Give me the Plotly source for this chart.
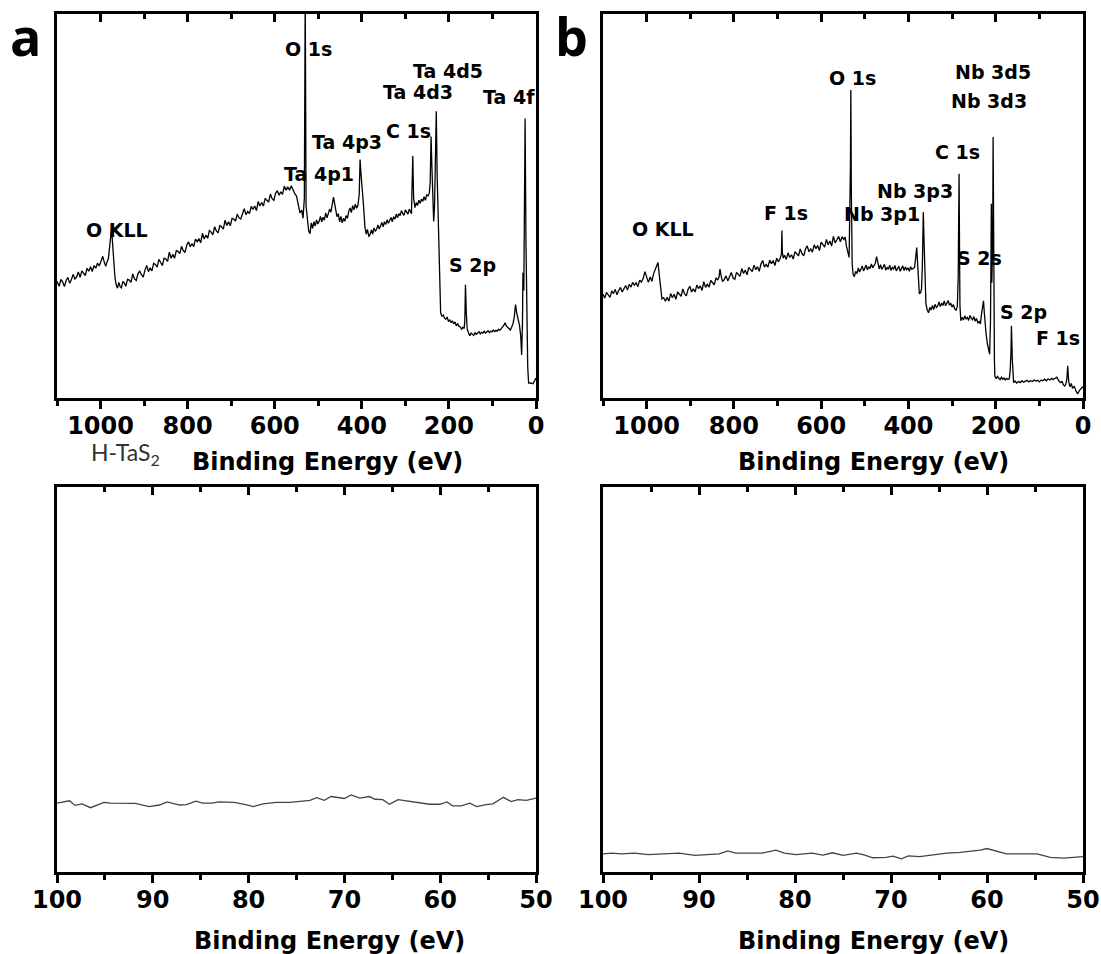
import plotly.graph_objects as go

# ---------------- data ----------------
# (a) H-TaS2 survey spectrum: (binding energy eV, intensity a.u.)
survey_a = [
    (1100, 30.4), (1095, 29.1), (1091, 30.9), (1087, 30.2), (1083, 29.0), (1079, 30.6), (1075, 31.4),
    (1071, 29.9), (1067, 30.8), (1063, 32.2), (1059, 31.0), (1055, 31.5), (1051, 32.8), (1047, 31.4),
    (1043, 33.1), (1039, 32.5), (1035, 31.9), (1031, 33.8), (1027, 33.0), (1023, 34.2), (1019, 32.9),
    (1015, 34.5), (1011, 33.8), (1007, 35.1), (1003, 34.4), (999, 35.6), (995, 36.9), (991, 35.2),
    (988, 34.3), (985, 35.5), (982, 36.3), (979, 39.5), (977, 42.5), (975, 43.9), (973, 41.3),
    (970, 36.0), (967, 31.5), (964, 29.4), (961, 28.6), (958, 30.1), (955, 29.0), (952, 28.7),
    (949, 30.3), (946, 30.1), (942, 29.1), (938, 30.9), (934, 30.7), (930, 30.1), (926, 32.3),
    (922, 31.0), (918, 30.6), (914, 32.4), (910, 33.0), (906, 32.1), (902, 31.5), (898, 33.3),
    (894, 34.5), (890, 32.9), (886, 33.9), (882, 33.1), (878, 35.1), (874, 34.8), (870, 34.1),
    (866, 36.1), (862, 35.1), (858, 34.5), (854, 36.4), (850, 36.2), (846, 35.6), (842, 38.0),
    (838, 36.4), (834, 37.4), (830, 36.4), (826, 38.4), (822, 38.2), (818, 37.6), (814, 39.5),
    (810, 38.4), (806, 37.9), (802, 39.8), (798, 40.7), (794, 39.4), (790, 40.2), (786, 39.4),
    (782, 41.4), (778, 40.7), (774, 41.5), (770, 40.4), (766, 42.9), (762, 41.4), (758, 42.4),
    (754, 41.6), (750, 43.6), (746, 43.2), (742, 42.5), (738, 44.6), (734, 43.5), (730, 43.0),
    (726, 44.9), (722, 44.6), (718, 44.0), (714, 46.3), (710, 44.9), (706, 45.9), (702, 44.8),
    (698, 46.8), (694, 46.6), (690, 46.1), (686, 47.9), (682, 46.9), (678, 46.6), (674, 48.2),
    (670, 49.3), (666, 47.7), (662, 48.6), (658, 48.0), (654, 49.9), (650, 49.1), (646, 50.0),
    (642, 48.8), (638, 51.2), (634, 50.0), (630, 50.9), (626, 50.0), (622, 52.0), (618, 51.5),
    (614, 51.0), (610, 53.1), (606, 51.9), (602, 51.5), (598, 53.3), (594, 54.0), (590, 52.8),
    (586, 53.7), (582, 53.0), (578, 55.2), (574, 54.1), (570, 55.0), (566, 54.1), (562, 55.3),
    (558, 54.0), (554, 53.2), (550, 52.6), (546, 50.4), (542, 48.2), (538, 48.9), (535, 46.8),
    (532, 52.0), (530, 105.0), (528, 50.0), (525, 45.5), (522, 43.5), (519, 42.8), (516, 45.6),
    (513, 44.2), (510, 45.9), (507, 44.8), (504, 46.4), (501, 45.3), (498, 46.0), (495, 47.3),
    (492, 45.9), (489, 47.1), (486, 46.3), (483, 48.2), (480, 46.9), (477, 48.0), (474, 49.2),
    (471, 48.4), (468, 50.6), (465, 52.3), (463, 51.0), (460, 48.8), (457, 47.2), (454, 48.0),
    (451, 45.9), (448, 47.3), (445, 45.6), (442, 46.8), (439, 46.0), (436, 47.5), (433, 46.8),
    (430, 48.6), (427, 49.5), (424, 48.3), (421, 50.1), (418, 49.0), (415, 50.5), (412, 49.4),
    (409, 50.2), (406, 53.0), (404, 62.1), (402, 58.5), (399, 55.2), (396, 50.0), (393, 44.7),
    (390, 42.7), (387, 43.9), (384, 42.0), (381, 42.6), (378, 43.8), (375, 42.7), (372, 44.3),
    (369, 43.4), (366, 44.0), (363, 45.1), (360, 44.0), (357, 44.8), (354, 45.7), (351, 44.6),
    (348, 45.9), (345, 45.2), (342, 46.4), (339, 45.5), (336, 46.1), (333, 47.0), (330, 45.9),
    (327, 47.2), (324, 46.6), (321, 47.9), (318, 46.9), (315, 48.0), (312, 47.5), (309, 48.8),
    (306, 48.0), (303, 47.6), (300, 49.0), (297, 48.3), (294, 47.9), (291, 49.2), (288, 48.6),
    (286, 48.0), (283, 63.0), (281, 52.0), (278, 49.6), (275, 50.9), (272, 50.1), (269, 51.5),
    (266, 50.7), (263, 51.8), (260, 51.2), (257, 52.4), (254, 51.5), (251, 52.9), (248, 52.6),
    (245, 53.4), (243, 56.0), (242, 62.0), (241, 68.1), (239, 60.0), (237, 55.0), (235, 46.0),
    (233, 50.0), (231, 60.0), (229, 74.7), (227, 58.0), (225, 50.0), (223, 38.0), (221, 28.0),
    (219, 22.2), (216, 21.3), (213, 21.6), (210, 20.8), (207, 20.5), (204, 21.1), (201, 19.9),
    (198, 20.4), (195, 19.6), (192, 20.1), (189, 19.3), (186, 19.8), (183, 18.8), (180, 19.4),
    (177, 18.7), (174, 18.5), (171, 17.9), (168, 18.4), (165, 18.1), (163.5, 20.0), (162, 29.5),
    (160, 22.0), (158, 18.0), (155, 17.0), (152, 16.2), (149, 16.9), (146, 16.6), (143, 16.3),
    (140, 17.0), (137, 16.6), (134, 16.9), (131, 17.3), (128, 16.7), (125, 17.1), (122, 16.9),
    (119, 17.4), (116, 16.9), (113, 17.2), (110, 17.5), (107, 17.0), (104, 17.4), (101, 17.2),
    (98, 17.7), (95, 17.3), (92, 17.6), (89, 17.4), (86, 17.9), (83, 17.6), (80, 18.0), (77, 18.4),
    (74, 18.9), (71, 19.6), (68, 18.7), (65, 18.4), (62, 18.0), (59, 17.7), (56, 18.4), (53, 19.3),
    (50, 21.0), (47, 24.3), (44, 22.0), (41, 20.4), (38, 19.0), (35, 16.0), (33, 11.2), (31, 20.0),
    (30, 32.6), (28, 28.0), (27, 50.0), (25, 72.8), (23, 40.0), (21, 17.0), (19, 8.0), (17, 3.9),
    (12, 3.9), (7, 3.7), (3, 4.5), (0, 5.2),
]

# (b) survey spectrum of the Nb sample
survey_b = [
    (1100, 27.1), (1096, 26.0), (1092, 27.5), (1088, 26.8), (1084, 26.2), (1080, 27.9), (1076, 27.2),
    (1072, 28.3), (1068, 26.9), (1064, 28.0), (1060, 28.8), (1056, 27.6), (1052, 28.5), (1048, 29.3),
    (1044, 28.1), (1040, 29.6), (1036, 28.9), (1032, 30.1), (1028, 29.4), (1024, 30.0), (1020, 29.0),
    (1016, 30.7), (1012, 30.2), (1008, 31.1), (1004, 32.9), (1000, 31.3), (996, 30.1), (992, 31.5),
    (988, 30.4), (984, 32.4), (980, 33.6), (977, 34.6), (974, 35.3), (971, 32.0), (968, 28.5),
    (965, 25.8), (961, 26.1), (957, 25.2), (953, 26.2), (949, 25.2), (945, 27.2), (941, 26.1),
    (937, 27.0), (933, 25.7), (929, 27.6), (925, 27.0), (921, 26.5), (917, 28.4), (913, 27.1),
    (909, 26.6), (905, 28.3), (901, 29.1), (897, 27.6), (893, 28.4), (889, 27.6), (885, 29.4),
    (881, 28.5), (877, 29.2), (873, 28.0), (869, 30.3), (865, 28.8), (861, 29.6), (857, 28.9),
    (853, 30.6), (849, 30.1), (845, 29.5), (841, 31.2), (837, 30.8), (834, 31.5), (832, 33.6),
    (829, 31.6), (826, 30.3), (822, 30.9), (818, 31.8), (814, 30.5), (810, 31.7), (806, 32.7),
    (802, 31.3), (798, 30.9), (794, 32.7), (790, 32.3), (786, 31.7), (782, 33.7), (778, 32.4),
    (774, 33.3), (770, 32.1), (766, 34.0), (762, 33.5), (758, 32.9), (754, 34.6), (750, 33.4),
    (746, 34.2), (742, 33.0), (738, 34.9), (734, 35.8), (730, 34.1), (726, 34.8), (722, 34.1),
    (718, 35.9), (714, 35.0), (710, 35.8), (706, 34.5), (702, 36.4), (698, 35.5), (694, 36.3),
    (691, 37.5), (690, 43.6), (689, 38.0), (687, 36.4), (684, 37.2), (680, 36.1), (676, 37.8),
    (672, 36.6), (668, 37.3), (664, 36.2), (660, 38.1), (656, 37.6), (652, 37.0), (648, 38.8),
    (644, 37.6), (640, 37.0), (636, 38.8), (632, 39.6), (628, 38.1), (624, 38.8), (620, 38.0),
    (616, 39.9), (612, 38.9), (608, 39.7), (604, 38.4), (600, 40.6), (596, 40.0), (592, 39.3),
    (588, 41.3), (584, 39.9), (580, 40.9), (576, 39.6), (572, 42.1), (568, 40.4), (564, 41.2),
    (560, 42.1), (556, 40.7), (552, 42.0), (548, 41.3), (545, 41.9), (542, 39.5), (539, 37.5),
    (536, 36.6), (533, 60.0), (532, 80.2), (531, 55.0), (529, 35.0), (527, 32.3), (524, 31.6),
    (521, 33.0), (518, 32.4), (515, 33.9), (512, 32.8), (509, 33.5), (506, 34.4), (503, 33.1),
    (500, 33.8), (497, 34.6), (494, 33.4), (491, 34.2), (488, 33.7), (485, 34.9), (482, 33.9),
    (479, 34.5), (476, 35.1), (473, 36.8), (470, 34.9), (467, 33.6), (464, 34.7), (461, 33.5),
    (458, 34.1), (455, 34.8), (452, 33.3), (449, 34.0), (446, 33.5), (443, 34.6), (440, 33.2),
    (437, 34.0), (434, 33.6), (431, 34.5), (428, 33.1), (425, 33.9), (422, 34.3), (419, 33.0),
    (416, 33.8), (413, 34.4), (410, 33.2), (407, 34.1), (404, 33.4), (401, 33.9), (398, 33.0),
    (395, 34.2), (392, 33.5), (389, 33.8), (386, 34.0), (384, 36.0), (381, 39.2), (379, 35.0),
    (377, 29.0), (375, 27.1), (372, 27.5), (370, 28.5), (368, 35.0), (366, 48.4), (364, 40.0),
    (362, 28.0), (360, 24.5), (357, 23.0), (354, 22.2), (351, 23.6), (348, 22.9), (345, 24.1),
    (342, 23.0), (339, 24.4), (336, 23.6), (333, 24.0), (330, 25.0), (327, 23.8), (324, 24.7),
    (321, 24.1), (318, 25.3), (315, 24.0), (312, 24.8), (309, 25.4), (306, 24.2), (303, 24.6),
    (300, 23.7), (297, 24.3), (294, 23.2), (291, 22.8), (288, 23.9), (286, 31.4), (285, 45.0),
    (284, 58.4), (283, 40.0), (282, 24.0), (280, 20.1), (277, 21.0), (274, 20.3), (271, 21.4),
    (268, 20.6), (265, 21.0), (262, 20.2), (259, 21.5), (256, 20.8), (253, 20.4), (250, 21.2),
    (247, 20.0), (244, 20.7), (241, 19.6), (238, 19.9), (235, 19.3), (233, 21.5), (230, 24.0),
    (228, 25.3), (226, 22.0), (224, 18.0), (222, 16.6), (219, 14.0), (216, 12.0), (214, 11.4),
    (212, 20.0), (210, 50.6), (209, 30.0), (207, 40.0), (206, 68.0), (205, 30.0), (203, 10.0),
    (202, 5.7), (199, 5.0), (196, 5.6), (193, 5.1), (190, 4.8), (187, 5.4), (184, 4.9), (181, 5.2),
    (178, 4.7), (175, 5.1), (172, 4.8), (169, 5.0), (167, 7.0), (165, 12.0), (164, 18.8), (162, 10.0),
    (160, 5.0), (159, 4.0), (156, 4.4), (152, 3.9), (148, 4.3), (144, 4.0), (140, 4.5), (136, 4.1),
    (132, 4.4), (128, 4.6), (124, 4.2), (120, 4.5), (116, 4.3), (112, 4.7), (108, 4.4), (104, 4.6),
    (100, 4.2), (96, 4.7), (92, 4.5), (88, 4.9), (84, 4.5), (80, 5.0), (76, 4.7), (72, 5.1),
    (68, 4.8), (64, 5.2), (60, 5.4), (57, 4.8), (54, 4.2), (51, 4.0), (48, 4.4), (45, 3.4),
    (42, 3.1), (39, 3.7), (37, 5.0), (35, 8.4), (33, 4.5), (30, 2.9), (27, 3.8), (24, 2.5),
    (20, 3.1), (16, 1.8), (12, 1.1), (8, 2.0), (4, 2.4), (0, 3.0),
]

energy_a = [e for e, _ in survey_a]
counts_a = [c for _, c in survey_a]
energy_b = [e for e, _ in survey_b]
counts_b = [c for _, c in survey_b]

# (c) H-TaS2, 100-50 eV window
energy_c = [100.0, 99.4, 98.7, 98.1, 97.4, 96.5, 95.8, 95.1, 94.4, 93.2, 91.8, 90.4, 89.3, 88.5, 87.2,
            86.5, 85.5, 84.8, 83.8, 83.1, 82.4, 81.5, 80.3, 79.5, 78.5, 77.1, 75.7, 74.7, 73.6, 72.9,
            72.1, 71.4, 70.5, 70.0, 69.3, 68.4, 67.4, 66.8, 66.0, 65.3, 64.4, 63.2, 62.1, 61.1, 60.0,
            59.3, 58.7, 57.8, 56.9, 56.2, 55.2, 54.5, 53.4, 52.6, 51.9, 51.0, 50.0]
counts_c = [17.9, 18.1, 18.5, 17.3, 17.7, 16.7, 17.5, 18.1, 17.9, 17.8, 17.8, 17.0, 17.4, 18.2, 17.4,
            17.5, 18.4, 17.9, 17.9, 18.2, 18.1, 18.1, 17.5, 17.0, 17.7, 18.1, 18.1, 18.4, 18.6, 19.3,
            18.6, 19.6, 19.4, 19.1, 20.0, 19.2, 19.6, 18.9, 18.8, 17.6, 18.8, 18.4, 18.1, 17.6, 17.6,
            18.2, 17.2, 17.2, 17.9, 17.0, 17.5, 17.7, 19.4, 18.3, 18.8, 18.6, 19.2]

# (d) Nb sample, 100-50 eV window
energy_d = [100.0, 99.1, 98.1, 96.7, 95.3, 93.9, 92.1, 90.4, 89.0, 87.9, 87.0, 86.2, 84.8, 83.4, 82.0,
            81.1, 79.9, 78.2, 77.1, 76.1, 75.0, 73.6, 72.9, 71.9, 70.5, 69.8, 68.9, 68.2, 67.0, 65.6,
            64.2, 62.8, 61.4, 60.7, 60.0, 59.0, 58.0, 56.2, 54.8, 53.4, 52.0, 50.0]
counts_d = [4.7, 4.9, 4.7, 4.9, 4.5, 4.7, 4.9, 4.3, 4.6, 4.7, 5.5, 4.9, 4.9, 4.9, 5.7, 4.9, 4.5, 4.9,
            4.4, 5.0, 4.3, 4.9, 4.5, 3.7, 3.8, 4.1, 3.4, 4.2, 4.0, 4.4, 4.9, 5.1, 5.5, 5.7, 6.1, 5.3,
            4.7, 4.7, 4.7, 3.8, 3.6, 4.0]

# peak labels: (text, x centre px, y centre px)
labels_a = [("O KLL", 117, 230), ("O 1s", 308, 49), ("Ta 4p1", 319, 174), ("Ta 4p3", 347, 142),
            ("C 1s", 408, 131), ("Ta 4d3", 418, 92), ("Ta 4d5", 448, 71), ("Ta 4f", 509, 97),
            ("S 2p", 472, 265)]
labels_b = [("O KLL", 663, 229), ("F 1s", 786, 213), ("O 1s", 852, 78), ("Nb 3p1", 882, 214),
            ("Nb 3p3", 915, 191), ("C 1s", 957, 152), ("Nb 3d5", 993, 72), ("Nb 3d3", 989, 101),
            ("S 2s", 979, 258), ("S 2p", 1023, 312), ("F 1s", 1058, 338)]

x_title = "Binding Energy (eV)"

# ---------------- figure ----------------
W, H = 1101, 954


def px(x):
    return x / W


def py(y):
    return 1 - y / H


LEFT = [px(57), px(536)]
RIGHT = [px(603), px(1083)]
TOP = [py(398), py(14)]
BOT = [py(872), py(487)]

fig = go.Figure()
line_style = dict(color="black", width=1.3)
fig.add_trace(go.Scatter(x=energy_a, y=counts_a, mode="lines", line=line_style, xaxis="x", yaxis="y"))
fig.add_trace(go.Scatter(x=energy_b, y=counts_b, mode="lines", line=line_style, xaxis="x2", yaxis="y2"))
fig.add_trace(go.Scatter(x=energy_c, y=counts_c, mode="lines", line=dict(color="#444", width=1.3),
                         xaxis="x3", yaxis="y3"))
fig.add_trace(go.Scatter(x=energy_d, y=counts_d, mode="lines", line=dict(color="#444", width=1.3),
                         xaxis="x4", yaxis="y4"))
# empty helper traces so that the top (inside-tick) axes are drawn
for xa, ya in [("x5", "y"), ("x6", "y2"), ("x7", "y3"), ("x8", "y4")]:
    fig.add_trace(go.Scatter(x=[], y=[], mode="lines", xaxis=xa, yaxis=ya, hoverinfo="skip"))

tickfont = dict(family="DejaVu Sans", size=24, color="black", weight="bold")


def xax(domain, anchor, rng, dtick, minor):
    return dict(domain=domain, anchor=anchor, range=rng, dtick=dtick, tick0=0, ticks="outside",
                ticklen=8, tickwidth=2.5, tickcolor="black", showline=True, linewidth=2.5,
                linecolor="black", mirror=True, showgrid=False, zeroline=False, tickfont=tickfont,
                automargin=False, ticklabelstandoff=-4,
                minor=dict(dtick=minor, tick0=0, ticks="outside", ticklen=5, tickwidth=2.5,
                           tickcolor="black", showgrid=False))


def topax(over, anchor, rng, dtick, minor):
    return dict(overlaying=over, anchor=anchor, side="top", range=rng, dtick=dtick, tick0=0,
                ticks="inside", ticklen=8, tickwidth=2.5, tickcolor="black", showticklabels=False,
                showline=False, showgrid=False, zeroline=False, automargin=False,
                minor=dict(dtick=minor, tick0=0, ticks="inside", ticklen=5, tickwidth=2.5,
                           tickcolor="black", showgrid=False))


def yax(domain, anchor):
    return dict(domain=domain, anchor=anchor, range=[0, 100], showticklabels=False, ticks="",
                showline=True, linewidth=2.5, linecolor="black", mirror=True, showgrid=False,
                zeroline=False, automargin=False)


fig.update_layout(
    width=W, height=H, autosize=False,
    margin=dict(l=0, r=0, t=0, b=0, autoexpand=False),
    paper_bgcolor="white", plot_bgcolor="white",
    showlegend=False,
    xaxis=xax(LEFT, "y", [1100, 0], 200, 100),
    yaxis=yax(TOP, "x"),
    xaxis2=xax(RIGHT, "y2", [1100, 0], 200, 100),
    yaxis2=yax(TOP, "x2"),
    xaxis3=xax(LEFT, "y3", [100, 50], 10, 5),
    yaxis3=yax(BOT, "x3"),
    xaxis4=xax(RIGHT, "y4", [100, 50], 10, 5),
    yaxis4=yax(BOT, "x4"),
    xaxis5=topax("x", "y", [1100, 0], 200, 100),
    xaxis6=topax("x2", "y2", [1100, 0], 200, 100),
    xaxis7=topax("x3", "y3", [100, 50], 10, 5),
    xaxis8=topax("x4", "y4", [100, 50], 10, 5),
)

ann = []
lab_font = dict(family="DejaVu Sans", size=19, color="black", weight="bold")
for text, x, y in labels_a + labels_b:
    ann.append(dict(text=text, x=px(x), y=py(y), xref="paper", yref="paper", showarrow=False,
                    xanchor="center", yanchor="middle", font=lab_font))

title_font = dict(family="DejaVu Sans", size=24, color="black", weight="bold")
for x, y in [(327, 462), (873, 462), (329, 941), (873, 941)]:
    ann.append(dict(text=x_title, x=px(x), y=py(y), xref="paper", yref="paper", showarrow=False,
                    xanchor="center", yanchor="middle", font=title_font))

panel_font = dict(family="Open Sans", size=52, color="black", weight="bold")
ann.append(dict(text="a", x=px(25), y=py(36), xref="paper", yref="paper", showarrow=False,
                xanchor="center", yanchor="middle", font=panel_font))
ann.append(dict(text="b", x=px(571), y=py(35), xref="paper", yref="paper", showarrow=False,
                xanchor="center", yanchor="middle", font=panel_font))
ann.append(dict(text="H-TaS<sub>2</sub>", x=px(125), y=py(454), xref="paper", yref="paper",
                showarrow=False, xanchor="center", yanchor="middle",
                font=dict(family="Lato", size=23, color="#333")))

fig.update_layout(annotations=ann)
fig.write_html("out.html")
